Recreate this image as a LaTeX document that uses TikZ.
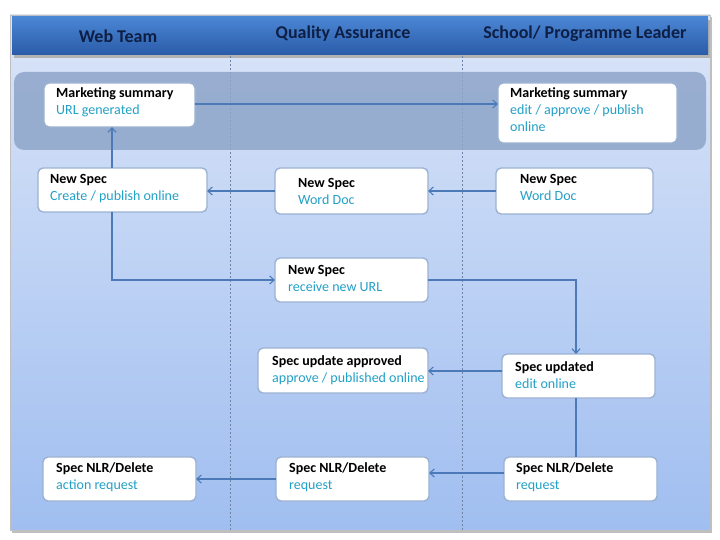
\documentclass[tikz,border=0pt]{standalone}
\usepackage{fontspec}
\setmainfont{Carlito}
\usetikzlibrary{arrows.meta,shadows}
\definecolor{hdrtop}{HTML}{4A86D4}
\definecolor{hdrbot}{HTML}{2A5BA8}
\definecolor{hdrtxt}{HTML}{0E1F45}
\definecolor{bodytop}{HTML}{DAE5F8}
\definecolor{bodybot}{HTML}{A0BEF0}
\definecolor{band}{HTML}{8EA5C9}
\definecolor{boxline}{HTML}{9CB2D2}
\definecolor{subtxt}{HTML}{22A0C8}
\definecolor{conn}{HTML}{4C7AB8}
\definecolor{lane}{HTML}{6F83A6}
\tikzset{
  bx/.style={draw=boxline, line width=1.4pt, fill=white, rounded corners=5pt, inner sep=0pt, outer sep=0pt},
  ttl/.style={font=\fontsize{14}{16}\selectfont\bfseries, text=black, inner sep=0pt},
  sbt/.style={font=\fontsize{14}{16}\selectfont, text=subtxt, inner sep=0pt},
  hdr/.style={font=\fontsize{18}{20}\selectfont\bfseries, text=hdrtxt, inner sep=0pt},
  conline/.style={draw=conn, line width=1.3pt},
  arr/.style={conline, -{Straight Barb[length=4.5pt,width=8pt,line width=1.1pt]}},
  lanesep/.style={draw=lane, line width=0.6pt, dash pattern=on 2pt off 2pt}
}
\newcommand\bx[5]{\node[bx, minimum width={#4-#2}, minimum height={#5-#3}] (#1) at ({(#2+#4)/2},{(#3+#5)/2}) {};}
\newcommand\tx[5]{\node[ttl, anchor=base west] (#1t) at (#2,#3) {#4};
  \node[sbt, anchor=base west] (#1s) at (#2,#3+17) {#5};}
\begin{document}
\begin{tikzpicture}[x=1pt,y=-1pt]
\useasboundingbox (0,0) rectangle (720,540);
% outer panel
\path[fill=black!25] (12,17) rectangle (712,533);
\path[top color=bodytop, bottom color=bodybot, draw=black!25, line width=0.6pt] (10,15) rectangle (710,530);
% header
\path[fill=black!30] (14,20) rectangle (710,58);
\path[top color=hdrtop, bottom color=hdrbot] (12,17) rectangle (708,55);
\node[hdr] (h1) at (118,36) {Web Team};
\node[hdr] (h2) at (343,34) {Quality Assurance};
\node[hdr] (h3) at (585,34) {School/ Programme Leader};
% lane separators
\coordinate (l1t) at (230,56); \coordinate (l1b) at (230,530);
\coordinate (l2t) at (462,56); \coordinate (l2b) at (462,530);
\draw[lanesep] (l1t) -- (l1b);
\draw[lanesep] (l2t) -- (l2b);
% grey band
\path[fill=band, opacity=0.85, rounded corners=10pt] (14,72) rectangle (706,150);
% boxes
\bx{b1}{44}{83}{195}{127}
\bx{b2}{498}{83}{677}{143}
\bx{b3}{38}{168}{207}{212}
\bx{b4}{275}{168}{428}{214}
\bx{b5}{496}{168}{653}{214}
\bx{b6}{275}{258}{428}{302}
\bx{b7}{258}{348}{428}{393}
\bx{b8}{502}{354}{655}{398}
\bx{b9}{43}{457}{196}{501}
\bx{b10}{276}{457}{429}{501}
\bx{b11}{504}{457}{657}{501}
% texts
\tx{b1}{56}{98}{Marketing summary}{URL generated}
\tx{b2}{510}{98}{Marketing summary}{edit / approve / publish}
\node[sbt, anchor=base west] (b2s2) at (510,132) {online};
\tx{b3}{50}{184}{New Spec}{Create / publish online}
\tx{b4}{298}{188}{New Spec}{Word Doc}
\tx{b5}{520}{184}{New Spec}{Word Doc}
\tx{b6}{288}{274}{New Spec}{receive new URL}
\tx{b7}{272}{365}{Spec update approved}{approve / published online}
\tx{b8}{515}{371}{Spec updated}{edit online}
\tx{b9}{56}{472}{Spec NLR/Delete}{action request}
\tx{b10}{289}{472}{Spec NLR/Delete}{request}
\tx{b11}{516}{472}{Spec NLR/Delete}{request}
% connectors
\draw[arr] (b1.east |- 0,104) -- (b2.west |- 0,104);
\draw[arr] (b3.north -| 112,0) -- (b1.south -| 112,0);
\draw[arr] (b5.west |- 0,191) -- (b4.east |- 0,191);
\draw[arr] (b4.west |- 0,191) -- (b3.east |- 0,191);
\draw[arr] (b3.south -| 112,0) |- (b6.west);
\draw[arr] (b6.east) -| (b8.north -| 576,0);
\draw[arr] (b8.west |- 0,371) -- (b7.east |- 0,371);
\draw[conline] (b8.south -| 576,0) -- (b11.north -| 576,0);
\draw[arr] (b11.west |- 0,473) -- (b10.east |- 0,473);
\draw[arr] (b10.west |- 0,479) -- (b9.east |- 0,479);
\end{tikzpicture}
\end{document}
